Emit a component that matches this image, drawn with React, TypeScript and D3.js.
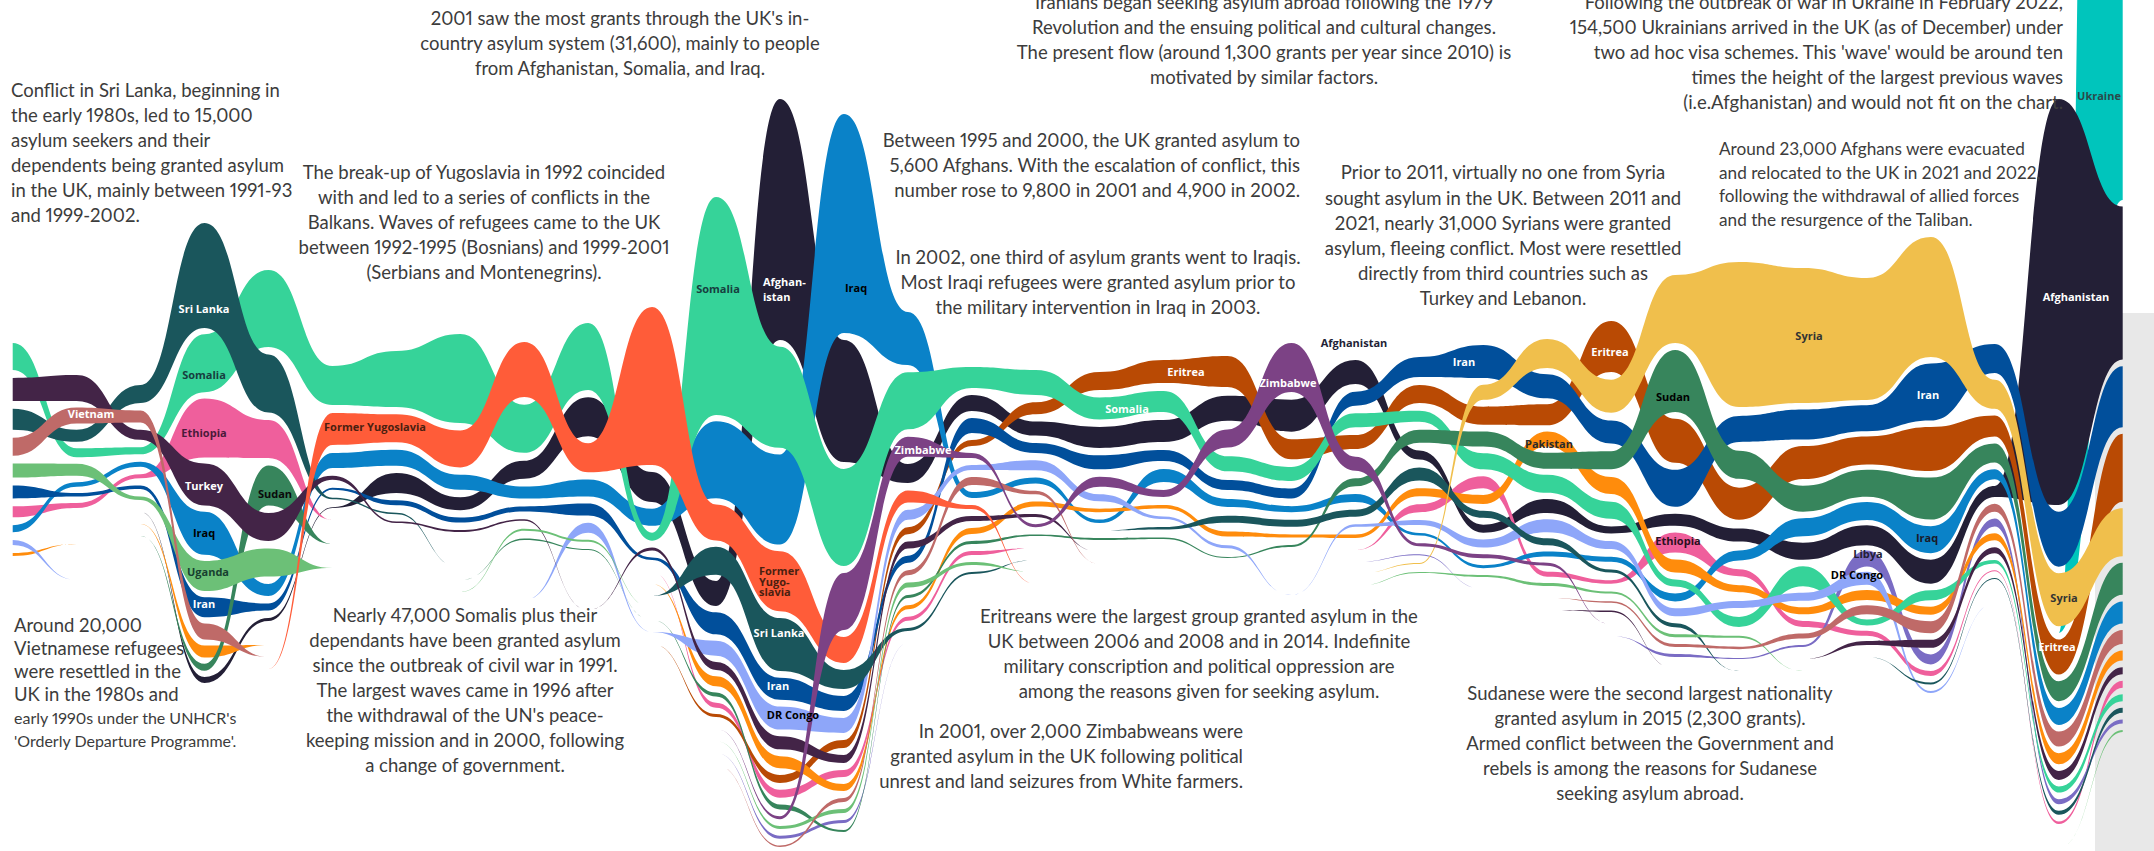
import React from "react";
import * as d3 from "d3";

const AFG = "Afghanistan", SOM = "Somalia", IRQ = "Iraq", IRN = "Iran", SRI = "Sri Lanka", FY = "Former Yugoslavia",
  ERI = "Eritrea", SYR = "Syria", SUD = "Sudan", ZIM = "Zimbabwe", ETH = "Ethiopia", TUR = "Turkey", VIE = "Vietnam",
  UGA = "Uganda", DRC = "DR Congo", PAK = "Pakistan", LIB = "Libya", UKR = "Ukraine";

type Row = [string, number];
// Grants by year, listed in the order each year's column is stacked, top to bottom.
const y1989: Row[] = [[SOM,1080],[TUR,920],[SRI,840],[VIE,720],[UGA,560],[IRN,520],[ETH,440],[IRQ,280],[DRC,200],[PAK,120]];
const y1990: Row[] = [[TUR,1040],[VIE,640],[SRI,480],[SOM,360],[UGA,480],[IRQ,180],[IRN,140],[ETH,200],[AFG,0],[SUD,0],[PAK,0],[FY,0],[SYR,0],[DRC,0]];
const y1991: Row[] = [[SRI,720],[VIE,480],[TUR,400],[SOM,280],[IRQ,200],[ETH,160],[IRN,140],[UGA,140],[AFG,0],[PAK,0],[SUD,0]];
const y1992: Row[] = [[SRI,4200],[SOM,2320],[ETH,2360],[TUR,1680],[IRQ,1720],[UGA,1200],[IRN,800],[VIE,640],[PAK,480],[SUD,280],[AFG,240]];
const y1993: Row[] = [[SOM,3080],[SRI,2320],[ETH,1520],[SUD,1600],[TUR,1120],[UGA,1120],[IRQ,480],[IRN,280],[AFG,120],[DRC,0],[PAK,0],[VIE,0],[FY,0]];
const y1994: Row[] = [[SOM,1560],[FY,1280],[IRQ,600],[TUR,160],[IRN,80],[SRI,60],[AFG,32],[ETH,0],[DRC,0],[SUD,0],[PAK,0],[UGA,0]];
const y1995: Row[] = [[SOM,2240],[FY,1120],[IRQ,640],[AFG,800],[IRN,200],[SRI,60],[TUR,60]];
const y1996: Row[] = [[SOM,3560],[FY,1480],[IRQ,600],[AFG,520],[IRN,200],[TUR,80],[ETH,0],[PAK,0],[SRI,0],[SUD,0],[UGA,0]];
const y1997: Row[] = [[FY,2200],[SOM,1920],[AFG,720],[IRQ,480],[IRN,200],[TUR,60],[UGA,80],[SUD,60],[ETH,0],[PAK,0],[VIE,0],[SRI,0],[DRC,0]];
const y1998: Row[] = [[SOM,2680],[AFG,1560],[FY,1160],[IRQ,680],[IRN,480],[DRC,400],[UGA,80],[SUD,40],[ETH,0],[PAK,0],[VIE,0],[SRI,0],[TUR,0]];
const y1999: Row[] = [[FY,6320],[AFG,1200],[IRQ,680],[SOM,320],[TUR,120],[IRN,100],[ETH,0],[PAK,0],[SRI,0],[UGA,0],[SUD,0],[DRC,0],[ERI,0]];
const y2000: Row[] = [[SOM,8720],[IRQ,3080],[FY,1440],[SRI,1120],[AFG,1000],[IRN,880],[DRC,600],[TUR,320],[PAK,400],[SUD,160],[ETH,200],[ERI,120],[ZIM,0],[UGA,0],[LIB,0],[VIE,0]];
const y2001: Row[] = [[AFG,9640],[SOM,4040],[IRQ,3600],[FY,2400],[SRI,2120],[IRN,880],[DRC,920],[TUR,520],[PAK,480],[ERI,320],[ETH,320],[SUD,200],[ZIM,120],[UGA,120],[LIB,120],[VIE,60]];
const y2002: Row[] = [[IRQ,8760],[AFG,4880],[SOM,3880],[ZIM,2280],[FY,1040],[SRI,760],[IRN,600],[DRC,600],[ERI,320],[TUR,320],[ETH,280],[PAK,280],[VIE,160],[UGA,160],[LIB,120],[SUD,80]];
const y2003: Row[] = [[IRQ,2120],[SOM,2280],[ZIM,800],[AFG,760],[FY,480],[DRC,400],[ERI,280],[TUR,280],[IRN,280],[VIE,200],[UGA,200],[SUD,120],[PAK,160],[ETH,160],[SRI,120],[LIB,0]];
const y2004: Row[] = [[SOM,840],[AFG,640],[IRN,600],[ERI,240],[ZIM,200],[DRC,200],[VIE,320],[IRQ,240],[FY,160],[TUR,200],[PAK,240],[SUD,120],[ETH,160],[UGA,120],[SRI,80]];
const y2005: Row[] = [[SOM,1000],[ERI,480],[AFG,560],[IRN,400],[DRC,400],[IRQ,240],[VIE,140],[PAK,200],[TUR,120],[ZIM,120],[SUD,60],[ETH,0],[SRI,0],[UGA,0],[FY,0]];
const y2006: Row[] = [[ERI,720],[SOM,880],[AFG,840],[IRN,560],[ZIM,400],[DRC,280],[PAK,140],[IRQ,140],[SRI,0],[SUD,80],[TUR,0],[VIE,0]];
const y2007: Row[] = [[ERI,920],[SOM,840],[AFG,880],[IRN,440],[IRQ,520],[ZIM,280],[PAK,140],[DRC,100],[SRI,100],[SUD,60]];
const y2008: Row[] = [[ERI,1240],[AFG,1000],[ZIM,720],[SOM,600],[IRN,400],[IRQ,320],[SRI,280],[PAK,200],[DRC,120],[SUD,40]];
const y2009: Row[] = [[ZIM,1960],[AFG,1280],[ERI,800],[SOM,560],[IRN,400],[IRQ,240],[SRI,280],[PAK,120],[SUD,80],[VIE,0],[TUR,0],[UGA,0],[DRC,0]];
const y2010: Row[] = [[AFG,960],[IRN,560],[SOM,560],[ERI,560],[ZIM,560],[SUD,320],[IRQ,320],[SRI,280],[DRC,100],[PAK,140],[ETH,0],[LIB,0],[SYR,0],[UGA,0]];
const y2011: Row[] = [[IRN,800],[ERI,720],[SOM,440],[SUD,520],[AFG,360],[SRI,520],[PAK,320],[ETH,320],[DRC,200],[IRQ,100],[ZIM,120],[LIB,40],[SYR,40],[UGA,40]];
const y2012: Row[] = [[IRN,1320],[SYR,600],[ERI,720],[SUD,600],[SOM,640],[ETH,480],[PAK,360],[SRI,280],[AFG,320],[DRC,320],[ZIM,160],[IRQ,120],[UGA,80],[LIB,0]];
const y2013: Row[] = [[SYR,1160],[IRN,960],[ERI,840],[PAK,600],[SUD,640],[SOM,720],[AFG,560],[DRC,520],[SRI,280],[IRQ,200],[ZIM,120],[ETH,200],[UGA,120],[VIE,0],[TUR,0]];
const y2014: Row[] = [[ERI,2040],[SYR,1320],[IRN,920],[SUD,720],[PAK,680],[SOM,680],[AFG,280],[DRC,320],[IRQ,200],[SRI,120],[ETH,140],[UGA,80],[VIE,60],[TUR,60],[ZIM,0],[LIB,0]];
const y2015: Row[] = [[SYR,2720],[SUD,2480],[ERI,1760],[IRN,1480],[AFG,480],[ETH,800],[PAK,520],[SOM,280],[IRQ,320],[DRC,320],[SRI,160],[UGA,120],[VIE,120],[LIB,120],[TUR,0]];
const y2016: Row[] = [[SYR,5800],[IRN,1040],[SUD,1120],[ERI,1280],[AFG,520],[IRQ,400],[ETH,280],[PAK,280],[DRC,280],[SOM,400],[UGA,80],[VIE,100],[LIB,40],[SRI,0]];
const y2017: Row[] = [[SYR,5400],[IRN,1200],[ERI,1320],[SUD,1040],[IRQ,720],[AFG,680],[SOM,800],[DRC,320],[PAK,280],[ETH,240],[VIE,200],[LIB,80],[TUR,0],[UGA,0]];
const y2018: Row[] = [[SYR,4880],[IRN,1040],[ERI,1120],[SUD,1080],[IRQ,720],[AFG,800],[LIB,640],[DRC,520],[PAK,400],[VIE,360],[SOM,240],[ETH,200],[TUR,160],[SRI,0]];
const y2019: Row[] = [[SYR,4800],[IRN,2280],[ERI,1760],[SUD,1680],[IRQ,1080],[AFG,960],[SOM,400],[PAK,320],[VIE,480],[TUR,320],[LIB,400],[ETH,200],[SRI,80],[DRC,80]];
const y2020: Row[] = [[IRN,1160],[SYR,1160],[ERI,840],[SUD,760],[IRQ,400],[AFG,440],[VIE,320],[LIB,320],[PAK,280],[TUR,240],[SOM,140],[ETH,40],[SRI,40],[UGA,0],[DRC,0]];
const y2021: Row[] = [[AFG,16240],[IRN,2200],[SYR,2120],[UKR,0],[ERI,1400],[SUD,800],[IRQ,680],[VIE,600],[PAK,440],[TUR,360],[SOM,240],[LIB,200],[SRI,160],[ETH,100],[DRC,0],[UGA,0]];
const y2022: Row[] = [[UKR,154500],[AFG,6120],[IRN,2440],[ERI,2720],[SYR,1920],[SUD,1280],[IRQ,880],[VIE,560],[PAK,400],[TUR,280],[ETH,280],[SOM,280],[SRI,200],[LIB,160],[UGA,80],[DRC,0]];

const columns = [y1989,y1990,y1991,y1992,y1993,y1994,y1995,y1996,y1997,y1998,y1999,y2000,y2001,y2002,y2003,y2004,y2005,y2006,y2007,y2008,y2009,y2010,y2011,y2012,y2013,y2014,y2015,y2016,y2017,y2018,y2019,y2020,y2021,y2022];
const firstYear = 1989;

// Where each year's stack begins and ends, on the same grants scale as the values.
const stackStart = [13720,15000,15400,8920,10800,14640,14040,13360,13680,12920,12280,7880,3960,4560,12480,14680,14800,14880,14400,14240,13720,14400,14280,13800,13560,12840,11000,10480,10720,11120,9480,13760,3960,-146500];
const stackEnd = [22240,20320,20000,27320,24840,20320,20920,21280,21600,22000,22400,28680,33880,33280,25240,22960,21440,21600,21560,22320,21880,21520,22920,23080,23440,24480,26280,26360,25880,25800,27720,23160,32960,29280];

// Paint order, back to front, with each series' colour.
const seriesNames = [UKR,AFG,ETH,ERI,LIB,IRQ,IRN,PAK,SOM,SUD,DRC,SRI,TUR,UGA,VIE,FY,SYR,ZIM];
const seriesColors = ["#00c5bc","#231f36","#ef5f9c","#b94a04","#7a6cc4","#0a82c8","#014f9b","#ff8c0c","#36d399","#37855c","#8ea6f9","#1a565c","#432447","#6cc077","#bf6a68","#ff5c39","#f0bf4c","#7c4285"];

const WIDTH = 2154, HEIGHT = 851;
const TEXT = "#3c3c3c";
const BODY_FONT = "Lato, sans-serif";
const LABEL_FONT = "'Open Sans', sans-serif";

type Label = [string, number, number, string];
const labels: Label[] = [
  ["Vietnam",91,414,"#ffffff"],["Sri Lanka",204,309,"#ffffff"],["Somalia",204,375,"#173f3f"],["Ethiopia",204,433,"#4a1a3a"],
  ["Turkey",204,486,"#ffffff"],["Iraq",204,533,"#000000"],["Sudan",275,494,"#0a0a0a"],["Uganda",208,572,"#173f2f"],["Iran",204,604,"#ffffff"],
  ["Former Yugoslavia",375,427,"#4a2010"],["Somalia",718,289,"#173f3f"],["Iraq",856,288,"#000000"],["Zimbabwe",923,450,"#ffffff"],
  ["Sri Lanka",779,633,"#ffffff"],["Iran",778,686,"#ffffff"],["DR Congo",793,715,"#000000"],["Eritrea",1186,372,"#ffffff"],["Somalia",1127,409,"#ffffff"],
  ["Zimbabwe",1288,383,"#ffffff"],["Afghanistan",1354,343,"#231f36"],["Iran",1464,362,"#ffffff"],["Eritrea",1610,352,"#ffffff"],["Pakistan",1549,444,"#2a2a2a"],
  ["Ethiopia",1678,541,"#2a1020"],["Sudan",1673,397,"#000000"],["Syria",1809,336,"#333333"],["Iran",1928,395,"#ffffff"],["Iraq",1927,538,"#1a1a2a"],
  ["Libya",1868,554,"#231f36"],["DR Congo",1857,575,"#000000"],["Afghanistan",2076,297,"#ffffff"],["Syria",2064,598,"#333333"],["Eritrea",2057,647,"#ffffff"],["Ukraine",2099,96,"#2a4a4a"],
];
const leftLabels: Label[] = [
  ["Afghan-",763,282,"#ffffff"],["istan",763,297,"#ffffff"],
  ["Former",759,571,"#4a2010"],["Yugo-",759,582,"#4a2010"],["slavia",759,592,"#4a2010"],
];

type Note = { x: number; y: number; step: number; anchor: "start" | "middle" | "end"; size?: number; lines: string[] };
const notes: Note[] = [
  { x: 11, y: 91, step: 25, anchor: "start", lines: ["Conflict in Sri Lanka, beginning in","the early 1980s, led to 15,000","asylum seekers and their","dependents being granted asylum","in the UK, mainly between 1991-93","and 1999-2002."] },
  { x: 620, y: 19, step: 25, anchor: "middle", lines: ["2001 saw the most grants through the UK's in-","country asylum system (31,600), mainly to people","from Afghanistan, Somalia, and Iraq."] },
  { x: 1264, y: 3, step: 25, anchor: "middle", lines: ["Iranians began seeking asylum abroad following the 1979","Revolution and the ensuing political and cultural changes.","The present flow (around 1,300 grants per year since 2010) is","motivated by similar factors."] },
  { x: 2063, y: 3, step: 25, anchor: "end", lines: ["Following the outbreak of war in Ukraine in February 2022,","154,500 Ukrainians arrived in the UK (as of December) under","two ad hoc visa schemes. This 'wave' would be around ten","times the height of the largest previous waves","(i.e.Afghanistan) and would not fit on the chart."] },
  { x: 1719, y: 149, step: 23.5, anchor: "start", size: 17.2, lines: ["Around 23,000 Afghans were evacuated","and relocated to the UK in 2021 and 2022,","following the withdrawal of allied forces","and the resurgence of the Taliban."] },
  { x: 484, y: 173, step: 25, anchor: "middle", lines: ["The break-up of Yugoslavia in 1992 coincided","with and led to a series of conflicts in the","Balkans. Waves of refugees came to the UK","between 1992-1995 (Bosnians) and 1999-2001","(Serbians and Montenegrins)."] },
  { x: 1300, y: 141, step: 25, anchor: "end", lines: ["Between 1995 and 2000, the UK granted asylum to","5,600 Afghans. With the escalation of conflict, this","number rose to 9,800 in 2001 and 4,900 in 2002."] },
  { x: 1098, y: 258, step: 25, anchor: "middle", lines: ["In 2002, one third of asylum grants went to Iraqis.","Most Iraqi refugees were granted asylum prior to","the military intervention in Iraq in 2003."] },
  { x: 1503, y: 173, step: 25.2, anchor: "middle", lines: ["Prior to 2011, virtually no one from Syria","sought asylum in the UK. Between 2011 and","2021, nearly 31,000 Syrians were granted","asylum, fleeing conflict. Most were resettled","directly from third countries such as","Turkey and Lebanon."] },
  { x: 14, y: 626, step: 23, anchor: "start", lines: ["Around 20,000","Vietnamese refugees","were resettled in the","UK in the 1980s and"] },
  { x: 14, y: 718, step: 23, anchor: "start", size: 16, lines: ["early 1990s under the UNHCR's","'Orderly Departure Programme'."] },
  { x: 465, y: 616, step: 25, anchor: "middle", lines: ["Nearly 47,000 Somalis plus their","dependants have been granted asylum","since the outbreak of civil war in 1991.","The largest waves came in 1996 after","the withdrawal of the UN's peace-","keeping mission and in 2000, following","a change of government."] },
  { x: 1199, y: 617, step: 25, anchor: "middle", lines: ["Eritreans were the largest group granted asylum in the","UK between 2006 and 2008 and in 2014. Indefinite","military conscription and political oppression are","among the reasons given for seeking asylum."] },
  { x: 1243, y: 732, step: 25, anchor: "end", lines: ["In 2001, over 2,000 Zimbabweans were","granted asylum in the UK following political","unrest and land seizures from White farmers."] },
  { x: 1650, y: 694, step: 25, anchor: "middle", lines: ["Sudanese were the second largest nationality","granted asylum in 2015 (2,300 grants).","Armed conflict between the Government and","rebels is among the reasons for Sudanese","seeking asylum abroad."] },
];

const x = d3.scaleLinear().domain([firstYear, firstYear + columns.length - 1]).range([12.7, 2122.7]);
const y = d3.scaleLinear().domain([0, HEIGHT * 40]).range([0, HEIGHT]);
const TAIL_STEP = 480; // grants between zero-width tips below a column

type Pt = { year: number; top: number; bottom: number };

function layout(): Map<string, Pt[]> {
  const out = new Map<string, Pt[]>(seriesNames.map((n) => [n, [] as Pt[]]));
  columns.forEach((rows, i) => {
    const year = firstYear + i;
    let last = rows.length - 1;
    while (last > 0 && rows[last][1] <= 0) last--;
    const sum = d3.sum(rows.slice(0, last + 1), (r) => r[1]);
    const gap = last > 0 ? (stackEnd[i] - stackStart[i] - sum) / last : 0;
    let pos = stackStart[i];
    const seen = new Set<string>();
    rows.forEach((r, j) => {
      if (j <= last) {
        out.get(r[0])!.push({ year, top: pos, bottom: pos + r[1] });
        pos += r[1] + gap;
      } else {
        const tip = stackEnd[i] + TAIL_STEP * (j - last);
        out.get(r[0])!.push({ year, top: tip, bottom: tip });
      }
      seen.add(r[0]);
    });
    let extra = rows.length - last;
    seriesNames.filter((n) => !seen.has(n)).forEach((n) => {
      const tip = stackEnd[i] + TAIL_STEP * extra++;
      out.get(n)!.push({ year, top: tip, bottom: tip });
    });
  });
  return out;
}

export default function App() {
  const bands = layout();
  const area = d3
    .area<Pt>()
    .x((d) => x(d.year))
    .y0((d) => y(d.top))
    .y1((d) => y(d.bottom))
    .curve(d3.curveBumpX);
  return (
    <svg
      width={WIDTH}
      height={HEIGHT}
      viewBox={`0 0 ${WIDTH} ${HEIGHT}`}
      style={{ position: "absolute", left: 0, top: 0, display: "block", background: "#ffffff" }}
    >
      <rect x={2095} y={313} width={59} height={538} fill="#e8e8e8" />
      {seriesNames.map((n, i) => (
        <path key={n} d={area(bands.get(n)!) ?? ""} fill={seriesColors[i]} />
      ))}
      {notes.map((note, i) => (
        <text
          key={i}
          fontFamily={BODY_FONT}
          fontSize={note.size ?? 18.5}
          fill={TEXT}
          textAnchor={note.anchor}
          style={{ fontVariantNumeric: "proportional-nums" }}
        >
          {note.lines.map((line, j) => (
            <tspan key={j} x={note.x} y={note.y + j * note.step} dy="0.35em">
              {line}
            </tspan>
          ))}
        </text>
      ))}
      {labels.map(([t, lx, ly, c], i) => (
        <text key={i} x={lx} y={ly} dy="0.35em" textAnchor="middle" fontFamily={LABEL_FONT} fontWeight={700} fontSize={11} fill={c}>
          {t}
        </text>
      ))}
      {leftLabels.map(([t, lx, ly, c], i) => (
        <text key={i} x={lx} y={ly} dy="0.35em" fontFamily={LABEL_FONT} fontWeight={700} fontSize={11} fill={c}>
          {t}
        </text>
      ))}
    </svg>
  );
}
